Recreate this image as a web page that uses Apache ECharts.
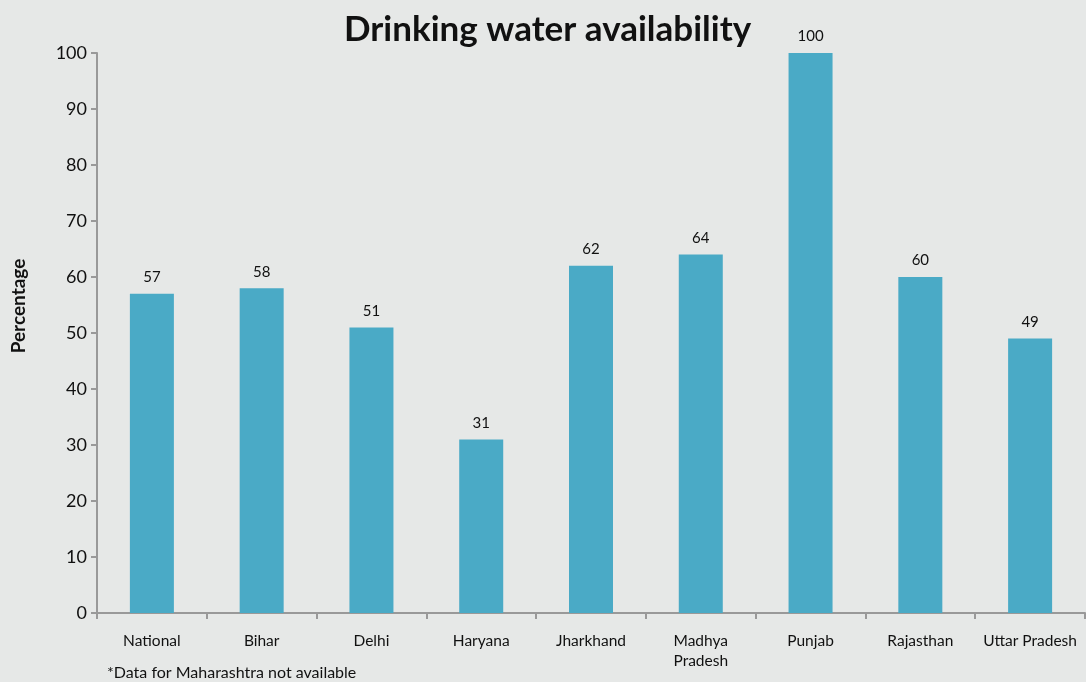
<!DOCTYPE html>
<html>
<head>
<meta charset="utf-8">
<script src="https://cdn.jsdelivr.net/npm/echarts@6/dist/echarts.min.js"></script>
<style>
  html, body { margin: 0; padding: 0; background: #e6e8e7; }
  #chart { width: 1086px; height: 682px; }
</style>
</head>
<body>
<div id="chart"></div>
<script>
// Share of households with drinking water available, by state
const categories = ['National', 'Bihar', 'Delhi', 'Haryana', 'Jharkhand', 'Madhya\nPradesh', 'Punjab', 'Rajasthan', 'Uttar Pradesh'];
const values = [57, 58, 51, 31, 62, 64, 100, 60, 49];
const yTicks = [0, 10, 20, 30, 40, 50, 60, 70, 80, 90, 100];

const fontFamily = 'Lato, "Open Sans", sans-serif';
const chart = echarts.init(document.getElementById('chart'));

chart.setOption({
  backgroundColor: '#e6e8e7',
  animation: false,
  title: {
    text: 'Drinking water availability',
    left: 339,
    top: 7,
    textStyle: { fontFamily, fontWeight: 'bold', fontSize: 35, color: '#111' }
  },
  grid: { left: 97, right: 1, top: 53, bottom: 69, containLabel: false },
  xAxis: {
    type: 'category',
    data: categories,
    axisLine: { lineStyle: { color: '#999', width: 2 } },
    axisTick: { show: true, length: 6, lineStyle: { color: '#999', width: 2 } },
    axisLabel: { fontFamily, fontSize: 15.5, color: '#111', margin: 18, lineHeight: 20, interval: 0 }
  },
  yAxis: {
    type: 'value',
    min: yTicks[0],
    max: yTicks[yTicks.length - 1],
    interval: 10,
    splitLine: { show: false },
    axisLine: { show: true, lineStyle: { color: '#999', width: 2 } },
    axisTick: { show: true, length: 6, lineStyle: { color: '#999', width: 2 } },
    axisLabel: { fontFamily, fontSize: 18, color: '#111', margin: 10 }
  },
  series: [{
    type: 'bar',
    data: values,
    barWidth: 44,
    itemStyle: { color: '#4aaac6' },
    label: {
      show: true,
      position: 'top',
      distance: 9,
      fontFamily,
      fontSize: 15,
      color: '#111'
    }
  }],
  graphic: [{
    type: 'text',
    x: 19,
    y: 306,
    rotation: Math.PI / 2,
    style: {
      text: 'Percentage',
      fontFamily,
      fontWeight: 'bold',
      fontSize: 19,
      fill: '#111',
      align: 'center',
      verticalAlign: 'middle'
    }
  }, {
    type: 'text',
    left: 107,
    top: 665,
    style: { text: '*Data for Maharashtra not available', fontFamily, fontSize: 16, fill: '#111' }
  }]
});
</script>
</body>
</html>
